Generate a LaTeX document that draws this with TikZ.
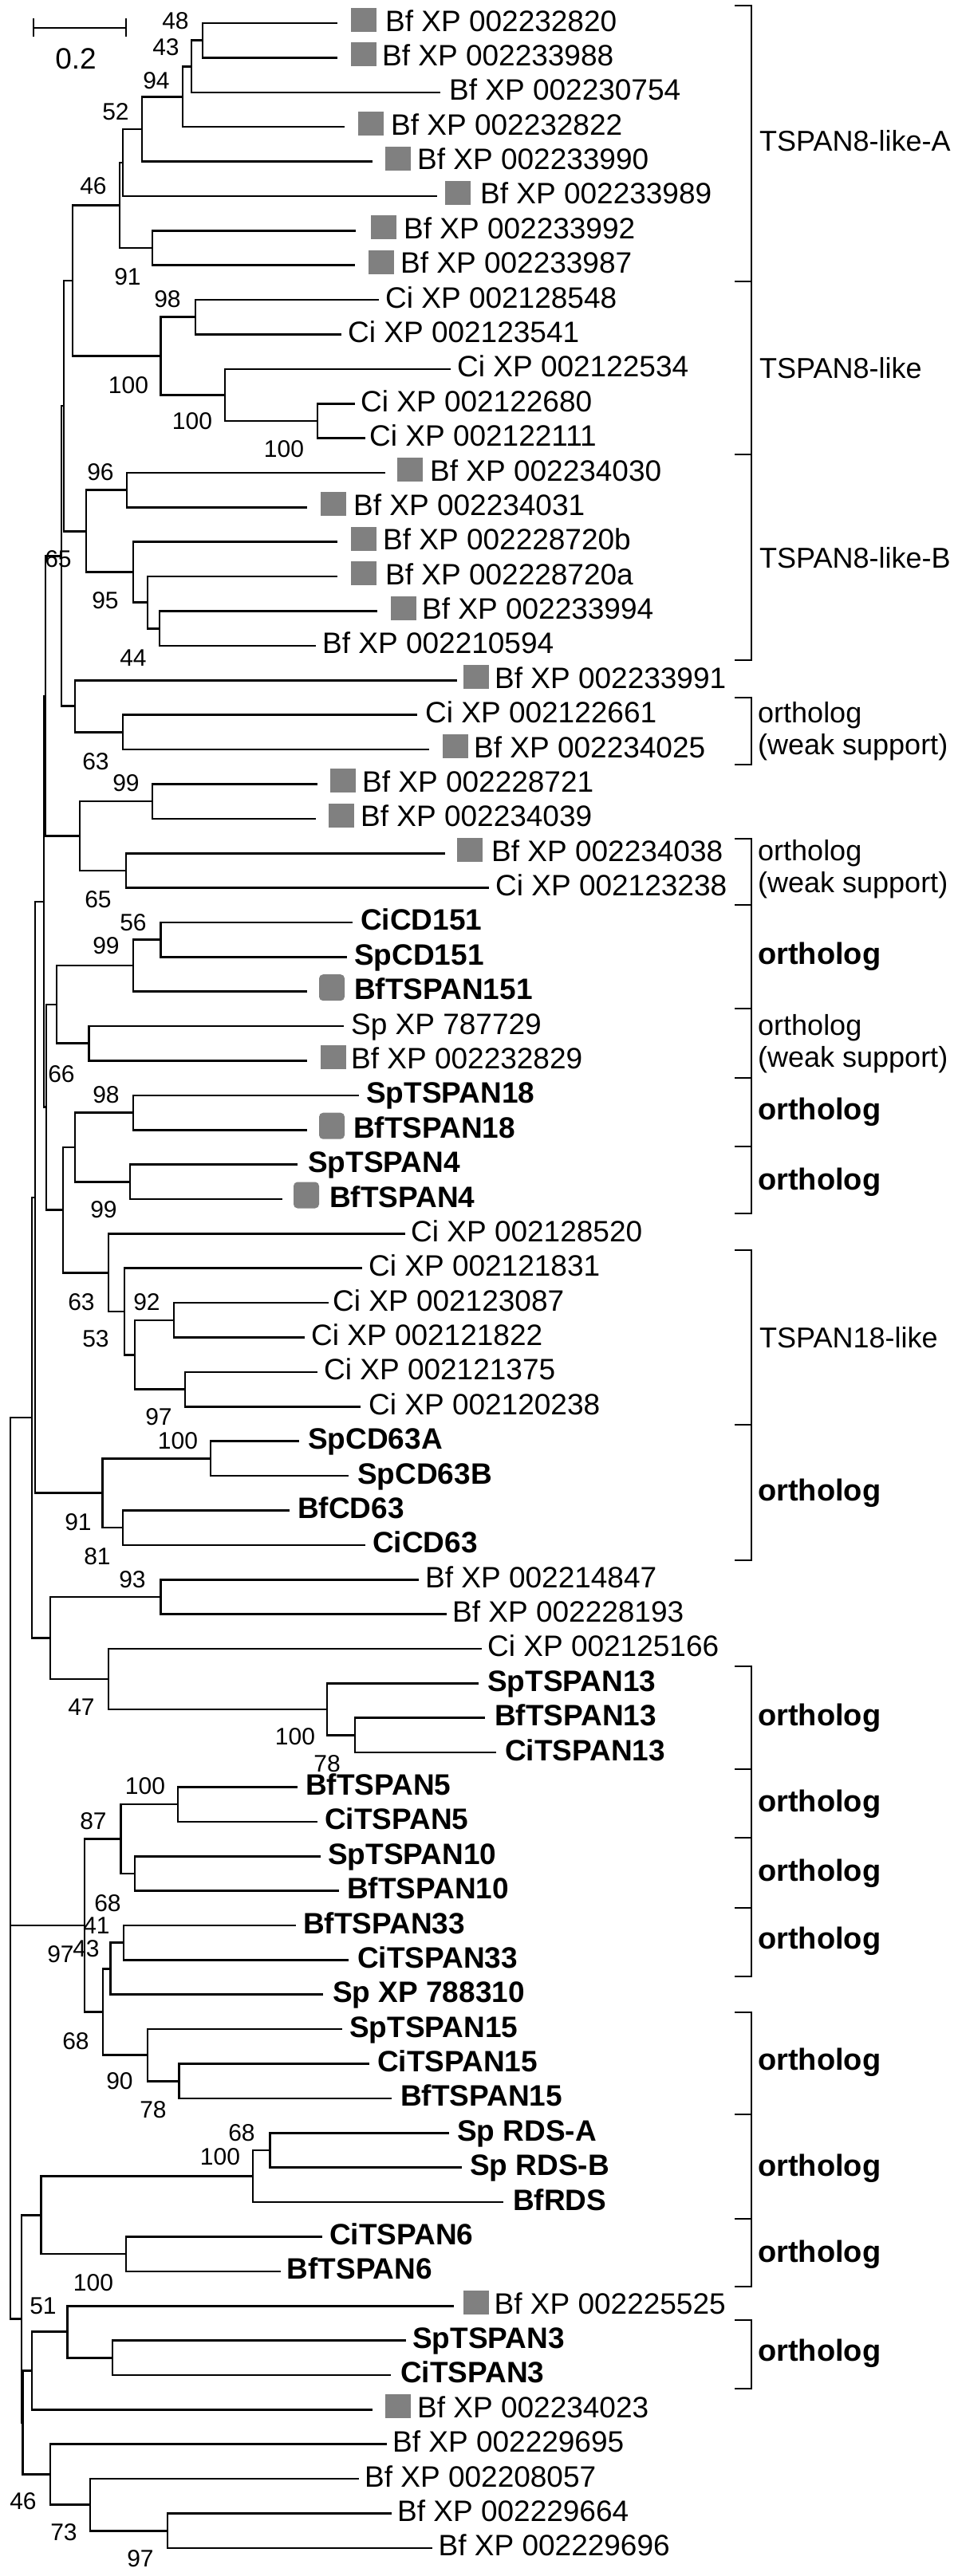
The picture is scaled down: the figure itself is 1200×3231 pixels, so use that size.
\documentclass[tikz,border=0pt]{standalone}
\usepackage{fontspec}
\setmainfont{Liberation Sans}
\definecolor{boxgray}{RGB}{128,128,128}
\tikzset{
 br/.style={line width=2.6pt},
 brk/.style={line width=2.6pt},
 lt/.style={font=\fontsize{37}{40}\selectfont, inner sep=0pt, anchor=base west},
 ltb/.style={font=\bfseries\fontsize{37}{40}\selectfont, inner sep=0pt, anchor=base west},
 bs/.style={font=\fontsize{30}{32}\selectfont, inner sep=0pt},
 gb/.style={fill=boxgray, minimum width=32pt, minimum height=30pt, inner sep=0pt},
 rb/.style={fill=boxgray, minimum width=32pt, minimum height=33pt, inner sep=0pt, rounded corners=5pt},
 cl/.style={font=\fontsize{36}{40}\selectfont, inner sep=0pt, anchor=west, align=left},
 clb/.style={font=\bfseries\fontsize{38}{42}\selectfont, inner sep=0pt, anchor=west},
}
\newcommand\leafA[5]{\coordinate (l#1) at (#3,#2); \node[lt] (t#1) at ({#4-2},{#2+10}) {#5};}
\newcommand\leafB[5]{\coordinate (l#1) at (#3,#2); \node[ltb] (t#1) at ({#4-2},{#2+10}) {#5};}
\newcommand\gbox[3]{\node[gb] (b#1) at ({#2+16},{#3-4}) {};}
\newcommand\rgbox[3]{\node[rb] (b#1) at ({#2+16},{#3-5}) {};}
\newcommand\tedge[2]{\draw[br] (#1) |- (#2);}
\newcommand\clbrack[2]{\draw[brk] (921,#1) -- (942,#1) -- (942,#2) -- (921,#2);}
\begin{document}
\begin{tikzpicture}[x=1pt,y=-1pt]
\fill[white] (0,0) rectangle (1200,3231);
\useasboundingbox (0,0) rectangle (1200,3231);
% scale bar
\coordinate (sb1) at (42,35); \coordinate (sb2) at (158,35);
\draw[br] (sb1) -- (sb2);
\draw[br] (42,23) -- (42,46); \draw[br] (158,23) -- (158,46);
\node[font=\fontsize{37}{40}\selectfont, inner sep=0pt] (sbl) at (95,74) {0.2};
% leaves
\leafA{1}{29.0}{423}{485}{Bf XP 002232820}\gbox{1}{440}{29.0}
\leafA{2}{72.4}{423}{481}{Bf XP 002233988}\gbox{2}{440}{72.4}
\leafA{3}{115.8}{552}{565}{Bf XP 002230754}
\leafA{4}{159.1}{432}{492}{Bf XP 002232822}\gbox{4}{449}{159.1}
\leafA{5}{202.5}{467}{525}{Bf XP 002233990}\gbox{5}{483}{202.5}
\leafA{6}{245.9}{548}{604}{Bf XP 002233989}\gbox{6}{558}{245.9}
\leafA{7}{289.3}{446}{508}{Bf XP 002233992}\gbox{7}{465}{289.3}
\leafA{8}{332.7}{445}{504}{Bf XP 002233987}\gbox{8}{462}{332.7}
\leafA{9}{376.0}{475}{485}{Ci XP 002128548}
\leafA{10}{419.4}{428}{438}{Ci XP 002123541}
\leafA{11}{462.8}{565}{575}{Ci XP 002122534}
\leafA{12}{506.2}{445}{454}{Ci XP 002122680}
\leafA{13}{549.6}{458}{465}{Ci XP 002122111}
\leafA{14}{593.0}{483}{541}{Bf XP 002234030}\gbox{14}{498}{593.0}
\leafA{15}{636.3}{385}{445}{Bf XP 002234031}\gbox{15}{402}{636.3}
\leafA{16}{679.7}{423}{482}{Bf XP 002228720b}\gbox{16}{440}{679.7}
\leafA{17}{723.1}{423}{485}{Bf XP 002228720a}\gbox{17}{440}{723.1}
\leafA{18}{766.5}{473}{531}{Bf XP 002233994}\gbox{18}{490}{766.5}
\leafA{19}{809.9}{396}{406}{Bf XP 002210594}
\leafA{20}{853.2}{573}{622}{Bf XP 002233991}\gbox{20}{581}{853.2}
\leafA{21}{896.6}{523}{535}{Ci XP 002122661}
\leafA{22}{940.0}{538}{596}{Bf XP 002234025}\gbox{22}{555}{940.0}
\leafA{23}{983.4}{398}{456}{Bf XP 002228721}\gbox{23}{414}{983.4}
\leafA{24}{1026.8}{396}{454}{Bf XP 002234039}\gbox{24}{412}{1026.8}
\leafA{25}{1070.2}{558}{618}{Bf XP 002234038}\gbox{25}{573}{1070.2}
\leafA{26}{1113.5}{613}{623}{Ci XP 002123238}
\leafB{27}{1156.9}{442}{454}{CiCD151}
\leafB{28}{1200.3}{435}{446}{SpCD151}
\leafB{29}{1243.7}{385}{446}{BfTSPAN151}\rgbox{29}{400}{1243.7}
\leafA{30}{1287.1}{431}{442}{Sp XP 787729}
\leafA{31}{1330.4}{385}{442}{Bf XP 002232829}\gbox{31}{402}{1330.4}
\leafB{32}{1373.8}{450}{461}{SpTSPAN18}
\leafB{33}{1417.2}{385}{445}{BfTSPAN18}\rgbox{33}{400}{1417.2}
\leafB{34}{1460.6}{373}{388}{SpTSPAN4}
\leafB{35}{1504.0}{354}{415}{BfTSPAN4}\rgbox{35}{368}{1504.0}
\leafA{36}{1547.4}{508}{517}{Ci XP 002128520}
\leafA{37}{1590.7}{454}{464}{Ci XP 002121831}
\leafA{38}{1634.1}{412}{419}{Ci XP 002123087}
\leafA{39}{1677.5}{382}{392}{Ci XP 002121822}
\leafA{40}{1720.9}{398}{408}{Ci XP 002121375}
\leafA{41}{1764.3}{452}{464}{Ci XP 002120238}
\leafB{42}{1807.6}{375}{388}{SpCD63A}
\leafB{43}{1851.0}{437}{450}{SpCD63B}
\leafB{44}{1894.4}{363}{375}{BfCD63}
\leafB{45}{1937.8}{458}{469}{CiCD63}
\leafA{46}{1981.2}{525}{535}{Bf XP 002214847}
\leafA{47}{2024.6}{560}{569}{Bf XP 002228193}
\leafA{48}{2067.9}{604}{613}{Ci XP 002125166}
\leafB{49}{2111.3}{600}{613}{SpTSPAN13}
\leafB{50}{2154.7}{608}{622}{BfTSPAN13}
\leafB{51}{2198.1}{622}{635}{CiTSPAN13}
\leafB{52}{2241.5}{373}{385}{BfTSPAN5}
\leafB{53}{2284.8}{398}{409}{CiTSPAN5}
\leafB{54}{2328.2}{401.5}{413}{SpTSPAN10}
\leafB{55}{2371.6}{425}{437}{BfTSPAN10}
\leafB{56}{2415.0}{371}{382}{BfTSPAN33}
\leafB{57}{2458.4}{437}{450}{CiTSPAN33}
\leafB{58}{2501.7}{405}{419}{Sp XP 788310}
\leafB{59}{2545.1}{428.5}{440}{SpTSPAN15}
\leafB{60}{2588.5}{463}{475}{CiTSPAN15}
\leafB{61}{2631.9}{491}{504}{BfTSPAN15}
\leafB{62}{2675.3}{563}{575}{Sp RDS-A}
\leafB{63}{2718.7}{578.5}{591}{Sp RDS-B}
\leafB{64}{2762.0}{631}{645}{BfRDS}
\leafB{65}{2805.4}{404}{415}{CiTSPAN6}
\leafB{66}{2848.8}{351.5}{361.5}{BfTSPAN6}
\leafA{67}{2892.2}{569}{621.5}{Bf XP 002225525}\gbox{67}{581}{2892.2}
\leafB{68}{2935.6}{509}{519}{SpTSPAN3}
\leafB{69}{2978.9}{490}{504}{CiTSPAN3}
\leafA{70}{3022.3}{467}{525}{Bf XP 002234023}\gbox{70}{483}{3022.3}
\leafA{71}{3065.7}{485}{494}{Bf XP 002229695}
\leafA{72}{3109.1}{450}{459}{Bf XP 002208057}
\leafA{73}{3152.5}{491}{500}{Bf XP 002229664}
\leafA{74}{3195.9}{542}{551.5}{Bf XP 002229696}
% internal nodes
\coordinate (N12) at (254,50.7);
\coordinate (N123) at (240,83.25);
\coordinate (N1234) at (229,121.2);
\coordinate (NA5) at (178,161.85);
\coordinate (NA6) at (154,203.9);
\coordinate (N78) at (191,311.0);
\coordinate (NA) at (150,257.45);
\coordinate (N910) at (245,397.7);
\coordinate (N1213) at (398,527.9);
\coordinate (N11) at (282,495.35);
\coordinate (NC) at (201.5,446.5);
\coordinate (NAC) at (91,352.0);
\coordinate (N1415) at (159,614.65);
\coordinate (N1819) at (200,788.2);
\coordinate (N17) at (185,755.65);
\coordinate (N16) at (167,717.7);
\coordinate (NB) at (108,666.2);
\coordinate (NACB) at (80,509.1);
\coordinate (N2122) at (154,918.3);
\coordinate (N20) at (94,885.75);
\coordinate (NACB20) at (77,697.4);
\coordinate (N2324) at (191,1005.1);
\coordinate (N2526) at (158,1091.85);
\coordinate (N2326) at (100,1048.5);
\coordinate (N2728) at (201.5,1178.6);
\coordinate (N29) at (167,1211.15);
\coordinate (N3031) at (111.5,1308.75);
\coordinate (NCD151) at (71,1259.95);
\coordinate (N3233) at (167,1395.5);
\coordinate (N3435) at (163,1482.3);
\coordinate (NT184) at (94,1438.9);
\coordinate (N3839) at (218,1655.8);
\coordinate (N4041) at (232,1742.6);
\coordinate (N3841) at (169,1699.2);
\coordinate (N37) at (156,1644.95);
\coordinate (N36) at (136,1596.2);
\coordinate (NT1836) at (79,1517.55);
\coordinate (S) at (57,872.95);
\coordinate (Q) at (58,1388.75);
\coordinate (X1) at (55,1130.85);
\coordinate (N4243) at (264,1829.3);
\coordinate (N4445) at (154,1916.1);
\coordinate (NCD63) at (128.5,1872.7);
\coordinate (T) at (44,1501.8);
\coordinate (N4647) at (201.5,2002.9);
\coordinate (N5051) at (445,2176.4);
\coordinate (N49) at (410,2143.85);
\coordinate (N48) at (136,2105.9);
\coordinate (N4648) at (63,2054.4);
\coordinate (U) at (40,1778.1);
\coordinate (N5253) at (223,2263.15);
\coordinate (N5455) at (169,2349.9);
\coordinate (N5255) at (151.5,2306.5);
\coordinate (N5657) at (155,2436.7);
\coordinate (N58) at (138.5,2469.2);
\coordinate (N6061) at (224.6,2610.2);
\coordinate (N59) at (185,2577.65);
\coordinate (N5861) at (129,2523.4);
\coordinate (N5261) at (106,2414.95);
\coordinate (N6263) at (338.5,2697);
\coordinate (N64) at (317,2729.5);
\coordinate (N6566) at (158,2827.1);
\coordinate (NRT6) at (51.5,2778.3);
\coordinate (N6869) at (141,2957.25);
\coordinate (N67) at (84.6,2924.7);
\coordinate (N70) at (40,2973.5);
\coordinate (N7374) at (210,3174.2);
\coordinate (N72) at (113,3141.65);
\coordinate (N71) at (63,3103.7);
\coordinate (W) at (28.5,3038.6);
\coordinate (V) at (27,2908.45);
\coordinate (R0) at (13,2414.95);
% edges
\tedge{N12}{l1}\tedge{N12}{l2}
\tedge{N123}{N12}\tedge{N123}{l3}
\tedge{N1234}{N123}\tedge{N1234}{l4}
\tedge{NA5}{N1234}\tedge{NA5}{l5}
\tedge{NA6}{NA5}\tedge{NA6}{l6}
\tedge{N78}{l7}\tedge{N78}{l8}
\tedge{NA}{NA6}\tedge{NA}{N78}
\tedge{N910}{l9}\tedge{N910}{l10}
\tedge{N1213}{l12}\tedge{N1213}{l13}
\tedge{N11}{l11}\tedge{N11}{N1213}
\tedge{NC}{N910}\tedge{NC}{N11}
\tedge{NAC}{NA}\tedge{NAC}{NC}
\tedge{N1415}{l14}\tedge{N1415}{l15}
\tedge{N1819}{l18}\tedge{N1819}{l19}
\tedge{N17}{l17}\tedge{N17}{N1819}
\tedge{N16}{l16}\tedge{N16}{N17}
\tedge{NB}{N1415}\tedge{NB}{N16}
\tedge{NACB}{NAC}\tedge{NACB}{NB}
\tedge{N2122}{l21}\tedge{N2122}{l22}
\tedge{N20}{l20}\tedge{N20}{N2122}
\tedge{NACB20}{NACB}\tedge{NACB20}{N20}
\tedge{N2324}{l23}\tedge{N2324}{l24}
\tedge{N2526}{l25}\tedge{N2526}{l26}
\tedge{N2326}{N2324}\tedge{N2326}{N2526}
\tedge{N2728}{l27}\tedge{N2728}{l28}
\tedge{N29}{N2728}\tedge{N29}{l29}
\tedge{N3031}{l30}\tedge{N3031}{l31}
\tedge{NCD151}{N29}\tedge{NCD151}{N3031}
\tedge{N3233}{l32}\tedge{N3233}{l33}
\tedge{N3435}{l34}\tedge{N3435}{l35}
\tedge{NT184}{N3233}\tedge{NT184}{N3435}
\tedge{N3839}{l38}\tedge{N3839}{l39}
\tedge{N4041}{l40}\tedge{N4041}{l41}
\tedge{N3841}{N3839}\tedge{N3841}{N4041}
\tedge{N37}{l37}\tedge{N37}{N3841}
\tedge{N36}{l36}\tedge{N36}{N37}
\tedge{NT1836}{NT184}\tedge{NT1836}{N36}
\tedge{S}{NACB20}\tedge{S}{N2326}
\tedge{Q}{NCD151}\tedge{Q}{NT1836}
\tedge{X1}{S}\tedge{X1}{Q}
\tedge{N4243}{l42}\tedge{N4243}{l43}
\tedge{N4445}{l44}\tedge{N4445}{l45}
\tedge{NCD63}{N4243}\tedge{NCD63}{N4445}
\tedge{T}{X1}\tedge{T}{NCD63}
\tedge{N4647}{l46}\tedge{N4647}{l47}
\tedge{N5051}{l50}\tedge{N5051}{l51}
\tedge{N49}{l49}\tedge{N49}{N5051}
\tedge{N48}{l48}\tedge{N48}{N49}
\tedge{N4648}{N4647}\tedge{N4648}{N48}
\tedge{U}{T}\tedge{U}{N4648}
\tedge{N5253}{l52}\tedge{N5253}{l53}
\tedge{N5455}{l54}\tedge{N5455}{l55}
\tedge{N5255}{N5253}\tedge{N5255}{N5455}
\tedge{N5657}{l56}\tedge{N5657}{l57}
\tedge{N58}{N5657}\tedge{N58}{l58}
\tedge{N6061}{l60}\tedge{N6061}{l61}
\tedge{N59}{l59}\tedge{N59}{N6061}
\tedge{N5861}{N58}\tedge{N5861}{N59}
\tedge{N5261}{N5255}\tedge{N5261}{N5861}
\tedge{N6263}{l62}\tedge{N6263}{l63}
\tedge{N64}{N6263}\tedge{N64}{l64}
\tedge{N6566}{l65}\tedge{N6566}{l66}
\tedge{NRT6}{N64}\tedge{NRT6}{N6566}
\tedge{N6869}{l68}\tedge{N6869}{l69}
\tedge{N67}{l67}\tedge{N67}{N6869}
\tedge{N70}{N67}\tedge{N70}{l70}
\tedge{N7374}{l73}\tedge{N7374}{l74}
\tedge{N72}{l72}\tedge{N72}{N7374}
\tedge{N71}{l71}\tedge{N71}{N72}
\tedge{W}{N70}\tedge{W}{N71}
\tedge{V}{NRT6}\tedge{V}{W}
\tedge{R0}{U}\tedge{R0}{N5261}\tedge{R0}{V}
% bootstrap values
\node[bs] (s1) at (220,26) {48};
\node[bs] (s2) at (208,59) {43};
\node[bs] (s3) at (196,101) {94};
\node[bs] (s4) at (145,140) {52};
\node[bs] (s5) at (117,233) {46};
\node[bs] (s6) at (160,347) {91};
\node[bs] (s7) at (210,375) {98};
\node[bs] (s8) at (161,483) {100};
\node[bs] (s9) at (241,528) {100};
\node[bs] (s10) at (356,563) {100};
\node[bs] (s11) at (126,592) {96};
\node[bs] (s12) at (73,701) {65};
\node[bs] (s13) at (132,753) {95};
\node[bs] (s14) at (167,825) {44};
\node[bs] (s15) at (120,955) {63};
\node[bs] (s16) at (158,982) {99};
\node[bs] (s17) at (123,1128) {65};
\node[bs] (s18) at (167,1157) {56};
\node[bs] (s19) at (133,1186) {99};
\node[bs] (s20) at (77,1347) {66};
\node[bs] (s21) at (133,1373) {98};
\node[bs] (s22) at (130,1517) {99};
\node[bs] (s23) at (102,1633) {63};
\node[bs] (s24) at (184,1633) {92};
\node[bs] (s25) at (120,1679) {53};
\node[bs] (s26) at (199,1777) {97};
\node[bs] (s27) at (223,1807) {100};
\node[bs] (s28) at (98,1909) {91};
\node[bs] (s29) at (122,1952) {81};
\node[bs] (s30) at (166,1981) {93};
\node[bs] (s31) at (102,2141) {47};
\node[bs] (s32) at (370,2178) {100};
\node[bs] (s33) at (410,2212) {78};
\node[bs] (s34) at (182,2240) {100};
\node[bs] (s35) at (117,2284) {87};
\node[bs] (s36) at (135,2387) {68};
\node[bs] (s37) at (121,2415) {41};
\node[bs] (s38) at (76,2451) {97};
\node[bs] (s39) at (108,2444) {43};
\node[bs] (s40) at (95,2560) {68};
\node[bs] (s41) at (150,2610) {90};
\node[bs] (s42) at (192,2646) {78};
\node[bs] (s43) at (303,2675) {68};
\node[bs] (s44) at (276,2705) {100};
\node[bs] (s45) at (117,2863) {100};
\node[bs] (s46) at (54,2892) {51};
\node[bs] (s47) at (29,3137) {46};
\node[bs] (s48) at (80,3176) {73};
\node[bs] (s49) at (176,3209) {97};
% brackets
\clbrack{7}{353}\clbrack{353}{570}\clbrack{570}{828}
\clbrack{875}{959}\clbrack{1052}{1135}\clbrack{1135}{1265}\clbrack{1265}{1352}
\clbrack{1352}{1438}\clbrack{1438}{1522}\clbrack{1568}{1787}\clbrack{1787}{1957}
\clbrack{2090}{2219}\clbrack{2219}{2305}\clbrack{2305}{2393}\clbrack{2393}{2479}
\clbrack{2524}{2652}\clbrack{2652}{2783}\clbrack{2783}{2868}\clbrack{2910}{2996}
\node[cl] (c1) at (952,177) {TSPAN8-like-A};
\node[cl] (c2) at (952,462) {TSPAN8-like};
\node[cl] (c3) at (952,700) {TSPAN8-like-B};
\node[cl] (c4) at (950,917) {ortholog\\(weak support)};
\node[cl] (c5) at (950,1090) {ortholog\\(weak support)};
\node[clb] (c6) at (950,1200) {ortholog};
\node[cl] (c7) at (950,1309) {ortholog\\(weak support)};
\node[clb] (c8) at (950,1395) {ortholog};
\node[clb] (c9) at (950,1483) {ortholog};
\node[cl] (c10) at (952,1678) {TSPAN18-like};
\node[clb] (c11) at (950,1873) {ortholog};
\node[clb] (c12) at (950,2155) {ortholog};
\node[clb] (c13) at (950,2263) {ortholog};
\node[clb] (c14) at (950,2350) {ortholog};
\node[clb] (c15) at (950,2435) {ortholog};
\node[clb] (c16) at (950,2587) {ortholog};
\node[clb] (c17) at (950,2720) {ortholog};
\node[clb] (c18) at (950,2828) {ortholog};
\node[clb] (c19) at (950,2952) {ortholog};
\end{tikzpicture}
\end{document}
